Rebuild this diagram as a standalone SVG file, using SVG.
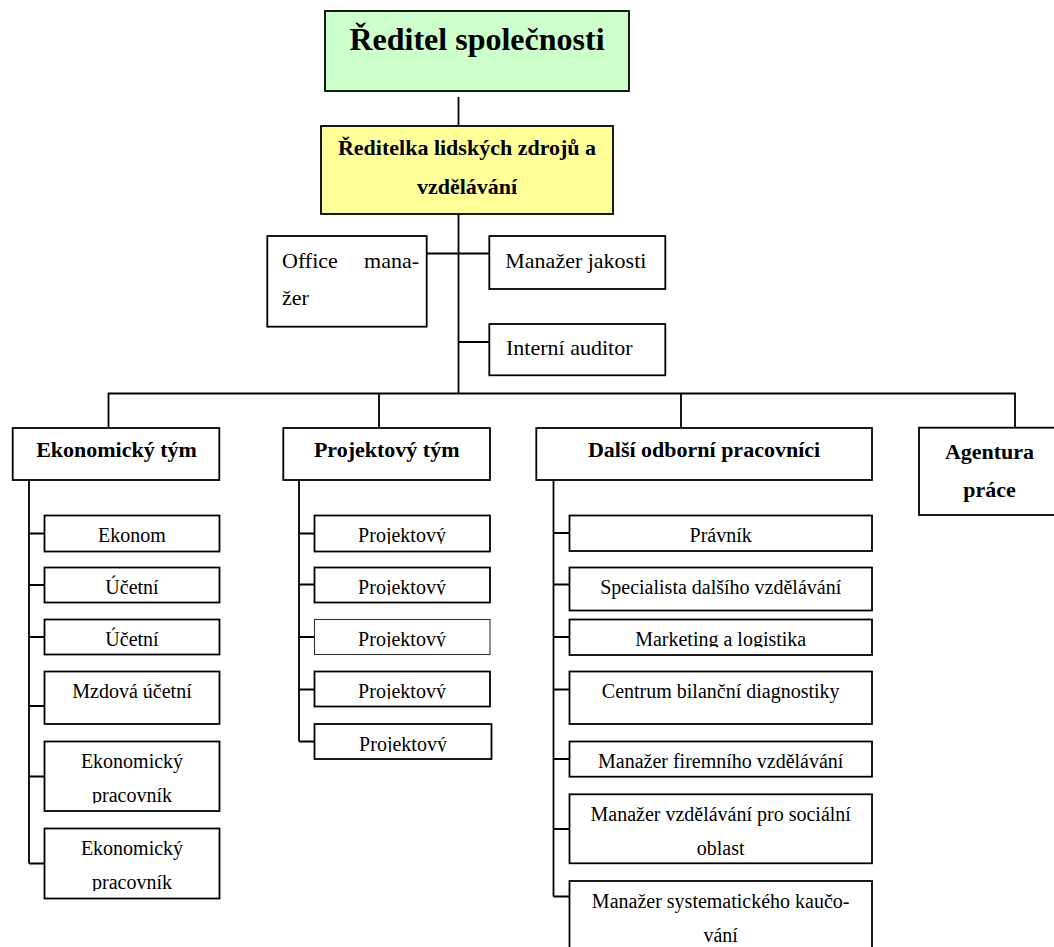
<svg xmlns="http://www.w3.org/2000/svg" width="1054" height="947" viewBox="0 0 1054 947" font-family="'Liberation Serif','Times New Roman',serif">
<style>
.box{fill:#fff;stroke:#000;stroke-width:1.8}
.green{fill:#CCFFCC}
.yellow{fill:#FFFF99}
.thin{stroke-width:1.1;stroke:#333}
.ln{fill:none;stroke:#000;stroke-width:1.8}
text{font-family:"Liberation Serif","Times New Roman",serif;fill:#000}
.b{font-weight:bold;font-size:22px;text-anchor:middle}
.r{font-size:22px}
.l{font-size:20px;text-anchor:middle;clip-path:url(#lc)}
</style>
<defs>
<clipPath id="lc" clipPathUnits="userSpaceOnUse">
<rect x="44" y="515" width="176" height="29"/>
<rect x="44" y="567" width="176" height="28"/>
<rect x="44" y="619" width="176" height="28"/>
<rect x="44" y="671" width="176" height="45"/>
<rect x="44" y="741" width="176" height="62.5"/>
<rect x="44" y="828" width="176" height="63"/>
<rect x="314" y="515" width="178" height="29"/>
<rect x="314" y="567" width="178" height="28"/>
<rect x="314" y="619" width="178" height="28"/>
<rect x="314" y="671" width="178" height="28"/>
<rect x="314" y="724" width="178" height="28"/>
<rect x="569" y="515" width="304" height="28"/>
<rect x="569" y="567" width="304" height="36"/>
<rect x="569" y="619" width="304" height="28.3"/>
<rect x="569" y="671" width="304" height="45"/>
<rect x="569" y="741" width="304" height="28"/>
<rect x="569" y="794" width="304" height="62"/>
<rect x="569" y="881" width="304" height="70"/>
</clipPath>
</defs>

<g id="connectors">
<path class="ln" d="M458.5 97V126M458.5 214V393.5M426.7 253.5H489.3M458.5 342H489.3"/>
<path class="ln" d="M108.5 428V393.5H1015V428M379 393.5V428M681 393.5V428"/>
<path class="ln" d="M29 480V863.5M29 533.5H44.5M29 585H44.5M29 637H44.5M29 706H44.5M29 776.5H44.5M29 863.5H44.5"/>
<path class="ln" d="M299 480V741.5M299 533.5H314.5M299 584.5H314.5M299 637H314.5M299 689.5H314.5M299 741.5H314.5"/>
<path class="ln" d="M553.5 480V896.5M553.5 533H569.5M553.5 584.5H569.5M553.5 637H569.5M553.5 689.5H569.5M553.5 759H569.5M553.5 829H569.5M553.5 896.5H569.5"/>
</g>

<g id="reditel">
<rect class="box green" x="325" y="11" width="304" height="80"/>
<text x="477" y="50" font-size="32" font-weight="bold" text-anchor="middle">Ředitel společnosti</text>
</g>

<g id="reditelka">
<rect class="box yellow" x="321" y="126" width="292" height="88"/>
<text class="b" x="467" y="155">Ředitelka lidských zdrojů a</text>
<text class="b" x="467" y="194">vzdělávání</text>
</g>

<g id="office">
<rect class="box" x="267.3" y="236" width="159.4" height="90.7"/>
<text class="r" x="282" y="267.7">Office</text>
<text class="r" x="419" y="267.7" text-anchor="end">mana-</text>
<text class="r" x="282" y="304.7">žer</text>
</g>

<g id="jakost">
<rect class="box" x="489.3" y="236" width="176" height="53"/>
<text class="r" x="505.3" y="267.7">Manažer jakosti</text>
</g>

<g id="auditor">
<rect class="box" x="489.3" y="324" width="176" height="51.3"/>
<text class="r" x="506" y="355">Interní auditor</text>
</g>

<g id="ekonomicky-tym">
<rect class="box" x="12.7" y="428" width="206.6" height="52"/>
<text class="b" x="116.5" y="457.3">Ekonomický tým</text>
</g>

<g id="projektovy-tym">
<rect class="box" x="283.3" y="428" width="206.7" height="52"/>
<text class="b" x="386.7" y="457.3">Projektový tým</text>
</g>

<g id="dalsi">
<rect class="box" x="536.3" y="428" width="335.7" height="52"/>
<text class="b" x="704" y="457.3">Další odborní pracovníci</text>
</g>

<g id="agentura">
<rect class="box" x="919" y="427.7" width="150" height="87.3"/>
<text class="b" x="989.5" y="459">Agentura</text>
<text class="b" x="989.5" y="496.7">práce</text>
</g>

<g id="ekonom"><rect class="box" x="44.5" y="515.5" width="175" height="36"/><text class="l" x="132" y="542.2">Ekonom</text></g>
<g id="ucetni1"><rect class="box" x="44.5" y="567.5" width="175" height="35"/><text class="l" x="132" y="594.3">Účetní</text></g>
<g id="ucetni2"><rect class="box" x="44.5" y="619.5" width="175" height="35"/><text class="l" x="132" y="646">Účetní</text></g>
<g id="mzdova"><rect class="box" x="44.5" y="671.5" width="175" height="52.5"/><text class="l" x="132" y="698.3">Mzdová účetní</text></g>
<g id="ekpr1"><rect class="box" x="44.5" y="741.5" width="175" height="69.5"/><text class="l" x="132" y="768.3">Ekonomický</text><text class="l" x="132" y="802.3">pracovník</text></g>
<g id="ekpr2"><rect class="box" x="44.5" y="828.5" width="175" height="70"/><text class="l" x="132" y="855">Ekonomický</text><text class="l" x="132" y="889.3">pracovník</text></g>

<g id="proj1"><rect class="box" x="314.5" y="515.5" width="175.5" height="36"/><text class="l" x="402" y="542.2">Projektový</text></g>
<g id="proj2"><rect class="box" x="314.5" y="567.5" width="175.5" height="35"/><text class="l" x="402" y="594.3">Projektový</text></g>
<g id="proj3"><rect class="box thin" x="314.5" y="619.5" width="175.5" height="35"/><text class="l" x="402" y="646">Projektový</text></g>
<g id="proj4"><rect class="box" x="314.5" y="671.5" width="175.5" height="35"/><text class="l" x="402" y="698.3">Projektový</text></g>
<g id="proj5"><rect class="box" x="314.5" y="724" width="177" height="35"/><text class="l" x="403" y="750.8">Projektový</text></g>

<g id="pravnik"><rect class="box" x="569.5" y="515.5" width="302.5" height="35.5"/><text class="l" x="720.7" y="542">Právník</text></g>
<g id="specialista"><rect class="box" x="569.5" y="567.5" width="302.5" height="43"/><text class="l" x="720.7" y="594.3">Specialista dalšího vzdělávání</text></g>
<g id="marketing"><rect class="box" x="569.5" y="619.5" width="302.5" height="35.5"/><text class="l" x="720.7" y="646">Marketing a logistika</text></g>
<g id="centrum"><rect class="box" x="569.5" y="671.5" width="302.5" height="52.5"/><text class="l" x="720.7" y="698.3">Centrum bilanční diagnostiky</text></g>
<g id="firemni"><rect class="box" x="569.5" y="741.5" width="302.5" height="35.2"/><text class="l" x="720.7" y="767.7">Manažer firemního vzdělávání</text></g>
<g id="socialni"><rect class="box" x="569.5" y="794.3" width="302.5" height="69"/><text class="l" x="720.7" y="820.7">Manažer vzdělávání pro sociální</text><text class="l" x="720.7" y="855">oblast</text></g>
<g id="kaucovani"><rect class="box" x="569.5" y="881" width="302.5" height="90"/><text class="l" x="720.7" y="907.5">Manažer systematického kaučo-</text><text class="l" x="720.7" y="941.8">vání</text></g>
</svg>
